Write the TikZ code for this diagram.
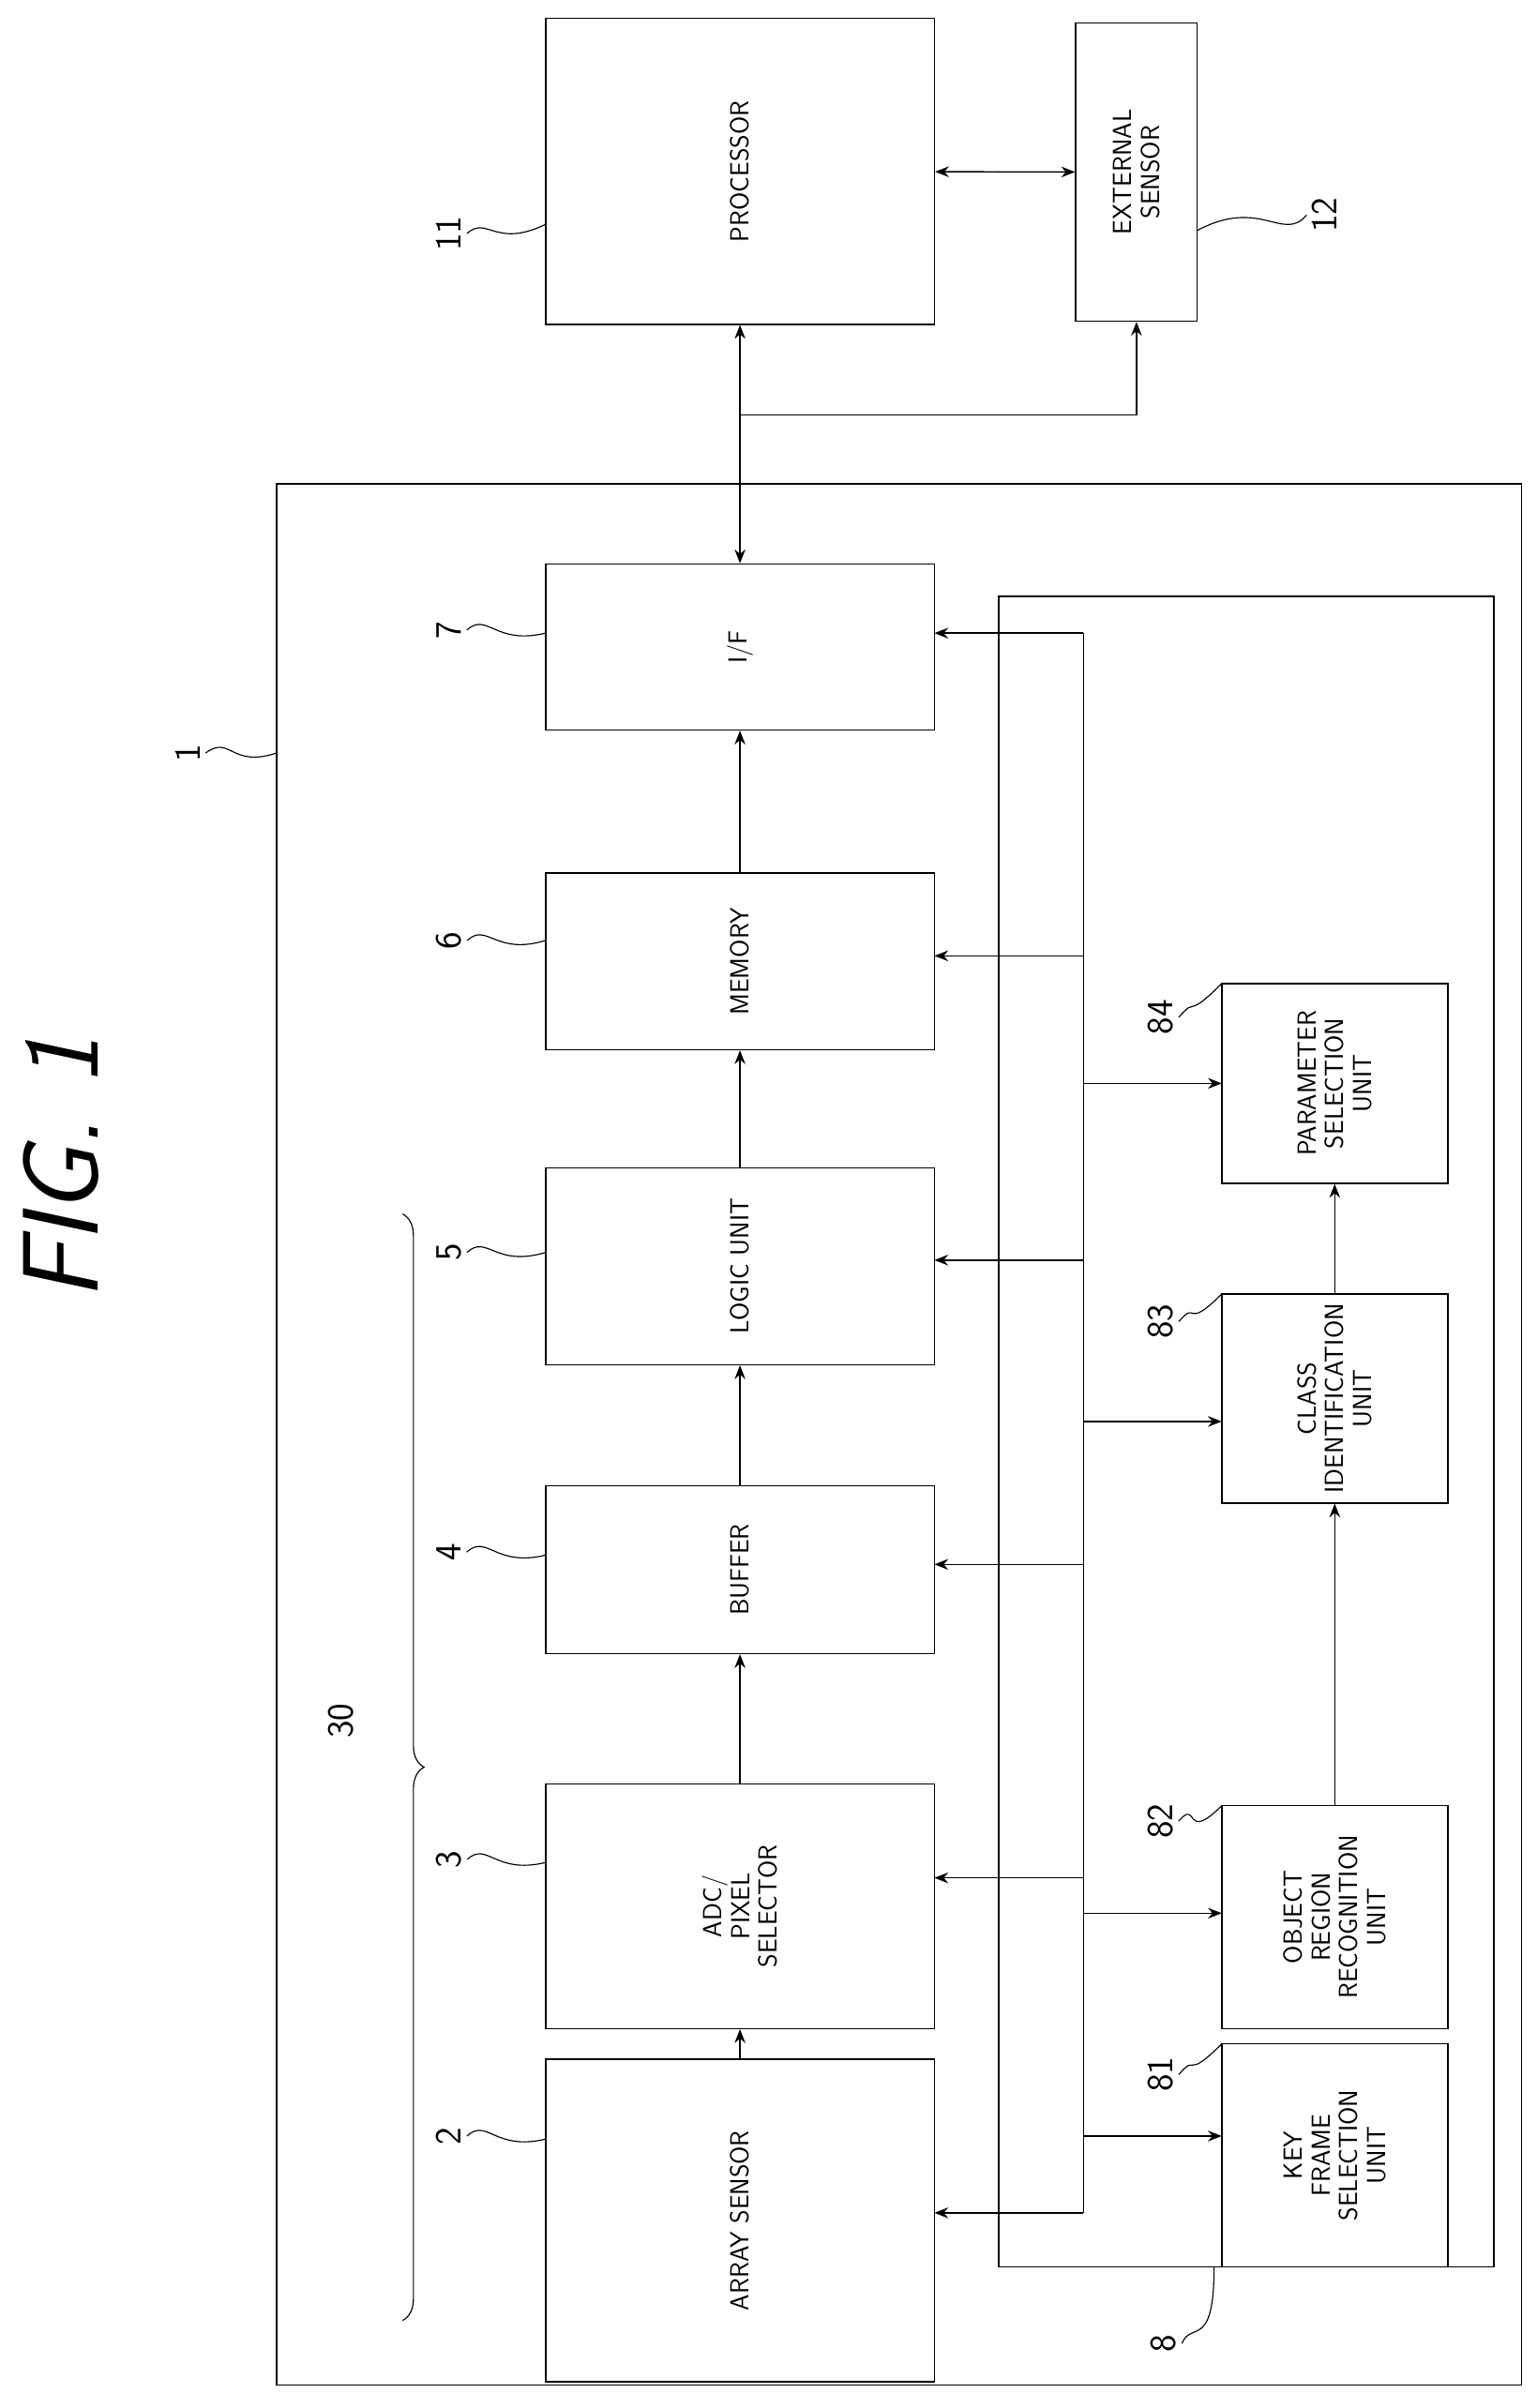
\documentclass[tikz,border=0pt]{standalone}
\usepackage{tikz}
\usetikzlibrary{arrows.meta,decorations.pathreplacing}

\begin{document}
\begin{tikzpicture}[x=1pt, y=-1pt, line width=0.9pt, font=\sffamily,
  blk/.style={rectangle, draw, inner sep=0pt, rotate=90, align=center, font=\sffamily\fontsize{17}{18}\selectfont},
  num/.style={rotate=90, font=\sffamily\fontsize{24}{24}\selectfont},
  arr/.style={-{Stealth[length=9pt,width=7pt]}},
  both/.style={{Stealth[length=9pt,width=7pt]}-{Stealth[length=9pt,width=7pt]}},
  lead/.style={line width=0.7pt}]
  \useasboundingbox (0,0) rectangle (1000,1567);
  % frames
  \draw (180,315) rectangle (990,1552);
  \draw (650,388) rectangle (972,1475);
  % main chain
  \node[blk, minimum width=199pt, minimum height=253pt] (proc) at (481.5,111.5) {PROCESSOR};
  \node[blk, minimum width=194pt, minimum height=79pt] (ext) at (739.5,112) {EXTERNAL\\SENSOR};
  \node[blk, minimum width=108pt, minimum height=253pt] (if) at (481.5,421) {I/F};
  \node[blk, minimum width=115pt, minimum height=253pt] (mem) at (481.5,625.5) {MEMORY};
  \node[blk, minimum width=128pt, minimum height=253pt] (logic) at (481.5,824) {LOGIC UNIT};
  \node[blk, minimum width=109pt, minimum height=253pt] (buf) at (481.5,1021.5) {BUFFER};
  \node[blk, minimum width=159pt, minimum height=253pt] (adc) at (481.5,1240.5) {ADC/\\PIXEL\\SELECTOR};
  \node[blk, minimum width=210pt, minimum height=253pt] (array) at (481.5,1445) {ARRAY SENSOR};
  % units of 8
  \node[blk, minimum width=130pt, minimum height=147pt] (param) at (868.5,705) {PARAMETER\\SELECTION\\UNIT};
  \node[blk, minimum width=136pt, minimum height=147pt] (class) at (868.5,910) {CLASS\\IDENTIFICATION\\UNIT};
  \node[blk, minimum width=145pt, minimum height=147pt] (object) at (868.5,1247.5) {OBJECT\\REGION\\RECOGNITION\\UNIT};
  \node[blk, minimum width=145pt, minimum height=147pt] (key) at (868.5,1402.5) {KEY\\FRAME\\SELECTION\\UNIT};
  % data flow
  \draw[arr] (array.east) -- (adc.west);
  \draw[arr] (adc.east) -- (buf.west);
  \draw[arr] (buf.east) -- (logic.west);
  \draw[arr] (logic.east) -- (mem.west);
  \draw[arr] (mem.east) -- (if.west);
  \draw[arr] (object.east) -- (class.west);
  \draw[arr] (class.east) -- (param.west);
  \draw[both] (proc) -- (ext);
  \draw[both] (proc) -- (if);
  \coordinate (tap) at (481.5,270);
  \draw[arr] (tap) -| (ext);
  % control bus
  \coordinate (bt) at (705,412);
  \coordinate (bb) at (705,1440);
  \draw (bt) -- (bb);
  \foreach \n/\y in {if/412, mem/622, logic/820, buf/1018, adc/1222, array/1440}
    \draw[arr] (705,\y) -- (608,\y);
  \foreach \y in {705, 925, 1245, 1390}
    \draw[arr] (705,\y) -- (795,\y);
  % reference numerals
  \foreach \t/\x/\y/\ex/\ey in {11/292/152/355/146, 7/292/410/355/412, 6/292/612/355/612,
      5/292/815/355/815, 4/292/1010/355/1012, 3/292/1210/355/1212, 2/292/1390/355/1392}{
    \node[num] (n\t) at (\x,\y) {\t};
    \draw[lead] (n\t.south) .. controls (\x+25,\y-12) and (\x+30,\y+10) .. (\ex,\ey);
  }
  \node[num] (n12) at (862,140) {12};
  \draw[lead] (n12.north) .. controls (835,158) and (820,128) .. (779,150);
  \node[num] (n1) at (122,490) {1};
  \draw[lead] (n1.south) .. controls (150,478) and (150,500) .. (180,490);
  \node[num] (n8) at (757,1525) {8};
  \draw[lead] (n8.south) .. controls (775,1510) and (790,1530) .. (790,1475);
  \foreach \t/\y/\ey in {84/662/640, 83/860/842, 82/1185/1175, 81/1350/1330}{
    \node[num] (n\t) at (755,\y) {\t};
    \draw[lead] (n\t.south) .. controls (780,\y-15) and (770,\ey+25) .. (795,\ey);
  }
  % group 30
  \draw[lead, decorate, decoration={brace, amplitude=14pt}] (262,790) -- (262,1510);
  \node[num] (n30) at (222,1120) {30};
  % title
  \node[rotate=90, font=\sffamily\itshape\fontsize{70}{70}\selectfont] (fig) at (40,760) {FIG. 1};
\end{tikzpicture}
\end{document}
